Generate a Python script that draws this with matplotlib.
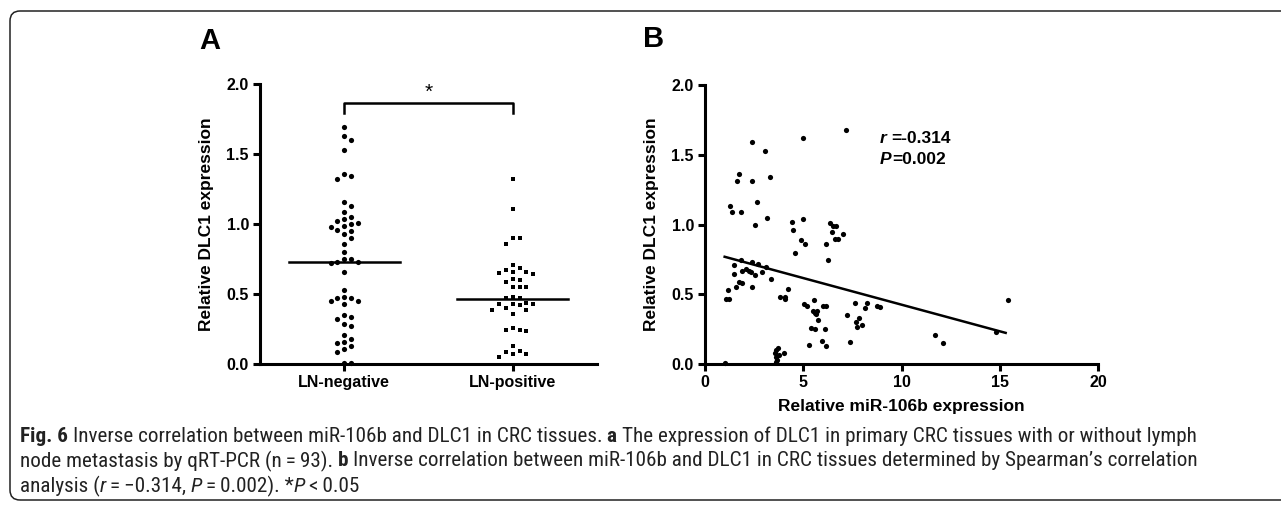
import numpy as np
import matplotlib
matplotlib.use('agg')
import matplotlib.pyplot as plt
from matplotlib.patches import FancyBboxPatch
from matplotlib.transforms import IdentityTransform

plt.rcParams['font.family'] = ['Liberation Sans', 'DejaVu Sans']

# ---- panel A data (Relative DLC1 expression) ----
groups = ['LN-negative', 'LN-positive']
ln_neg = [1.69, 1.60, 1.63, 1.53, 1.36, 1.34, 1.32, 1.16, 1.13, 1.09, 1.05, 1.04,
          1.02, 1.00, 0.99, 1.01, 0.96, 0.95, 0.98, 0.93, 0.90, 0.86, 0.80, 0.75,
          0.73, 0.73, 0.75, 0.72, 0.66, 0.53, 0.47, 0.45, 0.43, 0.45, 0.48, 0.47,
          0.34, 0.32, 0.35, 0.29, 0.27, 0.21, 0.18, 0.15, 0.16, 0.13, 0.11, 0.09,
          0.01, 0.01]
ln_pos = [1.32, 1.11, 0.90, 0.86, 0.90, 0.71, 0.66, 0.645, 0.67, 0.655, 0.66, 0.685,
          0.60, 0.61, 0.585, 0.555, 0.55, 0.555, 0.475, 0.475, 0.48, 0.43, 0.43,
          0.405, 0.385, 0.36, 0.42, 0.385, 0.43, 0.44, 0.245, 0.24, 0.245, 0.26,
          0.13, 0.095, 0.075, 0.05, 0.075, 0.085]
group_lines = [0.73, 0.465]

# ---- panel B data ----
mir106b = [1.01, 1.09, 1.23, 1.18, 1.26, 1.35, 1.63, 1.72, 1.85, 1.46, 1.48, 1.57,
           1.73, 1.89, 1.82, 1.89, 2.10, 2.24, 2.34, 2.41, 2.41, 2.41, 2.41, 2.53,
           2.53, 2.63, 2.69, 2.88, 3.06, 3.11, 3.18, 3.30, 3.37, 3.55, 3.59, 3.62,
           3.65, 3.69, 3.59, 3.75, 4.04, 3.80, 4.09, 4.09, 4.23, 4.41, 4.46, 4.56,
           4.87, 4.98, 5.00, 5.07, 5.05, 5.17, 5.27, 5.40, 5.57, 5.52, 5.61, 5.67,
           5.72, 5.61, 5.77, 5.94, 6.01, 6.14, 6.11, 6.14, 6.18, 6.25, 6.35, 6.45,
           6.52, 6.65, 6.62, 6.77, 7.04, 7.19, 7.22, 7.39, 7.63, 7.66, 7.71, 7.83,
           8.00, 8.16, 8.25, 8.77, 8.92, 11.70, 12.13, 14.79, 15.40]
dlc1 = [0.01, 0.47, 0.47, 0.53, 1.13, 1.09, 1.31, 1.36, 1.09, 0.71, 0.65, 0.55,
        0.59, 0.58, 0.75, 0.67, 0.68, 0.67, 0.66, 1.59, 1.31, 0.73, 0.55, 1.00,
        0.64, 1.16, 0.72, 0.66, 1.53, 0.70, 1.05, 1.34, 0.61, 0.08, 0.10, 0.05,
        0.03, 0.12, 0.02, 0.07, 0.08, 0.48, 0.48, 0.47, 0.54, 1.02, 0.96, 0.80,
        0.89, 1.04, 1.62, 0.86, 0.43, 0.42, 0.14, 0.26, 0.46, 0.38, 0.37, 0.36,
        0.38, 0.25, 0.32, 0.17, 0.42, 0.42, 0.25, 0.13, 0.86, 0.75, 1.01, 0.95,
        0.99, 0.99, 0.90, 0.90, 0.93, 1.68, 0.35, 0.16, 0.44, 0.30, 0.27, 0.33,
        0.28, 0.40, 0.44, 0.42, 0.41, 0.21, 0.15, 0.23, 0.46]
fit_x = [1.0, 15.3]
fit_y = [0.77, 0.225]

# caption pieces: (text, weight, style)
caption = [
    [('Fig. 6 ', 'bold', 'normal'),
     ('Inverse correlation between miR-106b and DLC1 in CRC tissues. ', 'normal', 'normal'),
     ('a ', 'bold', 'normal'),
     ('The expression of DLC1 in primary CRC tissues with or without lymph', 'normal', 'normal')],
    [('node metastasis by qRT-PCR (n\u2009=\u200993). ', 'normal', 'normal'),
     ('b ', 'bold', 'normal'),
     ('Inverse correlation between miR-106b and DLC1 in CRC tissues determined by Spearman\u2019s correlation',
      'normal', 'normal')],
    [('analysis (', 'normal', 'normal'), ('r', 'normal', 'italic'),
     ('\u2009=\u2009\u22120.314, ', 'normal', 'normal'), ('P', 'normal', 'italic'),
     ('\u2009=\u20090.002). *', 'normal', 'normal'), ('P', 'normal', 'italic'),
     ('\u2009<\u20090.05', 'normal', 'normal')],
]


def swarm(vals, ppx, ppy, d=6.6, step=6.8):
    # simple beeswarm: spread close values sideways (pixel units)
    vals = np.asarray(vals, dtype=float)
    px_done, py_done = [], []
    offs = np.zeros(len(vals))
    for i in np.argsort(vals)[::-1]:
        py = vals[i] * ppy
        found = None
        for k in range(0, 15):
            for c in ([0] if k == 0 else [k, -k]):
                px = c * step
                if all((px - a) ** 2 + (py - b) ** 2 >= d * d for a, b in zip(px_done, py_done)):
                    found = px
                    break
            if found is not None:
                break
        px_done.append(found)
        py_done.append(py)
        offs[i] = found / ppx
    return offs


W, H = 1281.0, 508.0
fig = plt.figure(figsize=(12.81, 5.08), dpi=100)
renderer = fig.canvas.get_renderer()

border = FancyBboxPatch((10, H - 500), 1300, 489, boxstyle='round,pad=0,rounding_size=10',
                        transform=IdentityTransform(), fill=False, lw=1.1, ec='#222222')
fig.add_artist(border)

axA = fig.add_axes([260 / W, 1 - 364.3 / H, 337 / W, 280.3 / H])
axB = fig.add_axes([705 / W, 1 - 364.3 / H, 393 / W, 279.3 / H])

# ---- panel A ----
xa = 0 + swarm(ln_neg, 169.0, 140.0)
xb = 1 + swarm(ln_pos, 169.0, 140.0)
axA.scatter(xa, ln_neg, s=14, marker='o', color='k', linewidths=0, clip_on=False, zorder=3)
axA.scatter(xb, ln_pos, s=12, marker='s', color='k', linewidths=0, clip_on=False, zorder=3)
for i, v in enumerate(group_lines):
    axA.plot([i - 0.33, i + 0.33], [v, v], color='k', lw=1.8, zorder=2)
axA.plot([0, 0, 1, 1], [1.79, 1.865, 1.865, 1.79], color='k', lw=1.8, clip_on=False)
axA.text(0.5, 1.875, '*', ha='center', va='bottom', fontsize=15)
axA.set_xlim(-0.5, 1.5)
axA.set_xticks([0, 1])
axA.set_xticklabels(groups)
axA.set_ylabel('Relative DLC1 expression', fontsize=12.5, fontweight='bold', labelpad=9)

# ---- panel B ----
axB.scatter(mir106b, dlc1, s=14, marker='o', color='k', linewidths=0, clip_on=False, zorder=3)
axB.plot(fit_x, fit_y, color='k', lw=1.8)
axB.set_xlim(0, 20)
axB.set_xticks([0, 5, 10, 15, 20])
axB.set_xlabel('Relative miR-106b expression', fontsize=12.5, fontweight='bold', labelpad=6)
axB.set_ylabel('Relative DLC1 expression', fontsize=12.5, fontweight='bold', labelpad=9)
axB.text(8.9, 1.62, 'r', fontsize=12.5, fontweight='bold', fontstyle='italic', va='center')
axB.annotate('=-0.314', xy=(8.9, 1.62), xytext=(8, 0), textcoords='offset points',
             fontsize=12.5, fontweight='bold', va='center')
axB.text(8.9, 1.47, 'P', fontsize=12.5, fontweight='bold', fontstyle='italic', va='center')
axB.annotate('=0.002', xy=(8.9, 1.47), xytext=(8.7, 0), textcoords='offset points',
             fontsize=12.5, fontweight='bold', va='center')

for ax in (axA, axB):
    ax.set_ylim(0, 2)
    ax.set_yticks([0, 0.5, 1.0, 1.5, 2.0])
    ax.set_yticklabels(['%.1f' % t for t in [0, 0.5, 1.0, 1.5, 2.0]])
    ax.spines['top'].set_visible(False)
    ax.spines['right'].set_visible(False)
    ax.spines['left'].set_linewidth(2.2)
    ax.spines['bottom'].set_linewidth(2.2)
    ax.tick_params(direction='out', length=5, width=2.2, labelsize=11.5, pad=3)
    for lab in ax.get_xticklabels() + ax.get_yticklabels():
        lab.set_fontweight('bold')

fig.text(210 / W, 1 - 41 / H, 'A', fontsize=21, fontweight='bold', ha='center', va='center')
fig.text(654 / W, 1 - 39 / H, 'B', fontsize=21, fontweight='bold', ha='center', va='center')

# ---- caption, drawn piece by piece ----
cap_family = ['Roboto Condensed', 'Open Sans Condensed', 'Liberation Sans Narrow', 'DejaVu Sans']


def advance(s, size, w, st):
    kw = dict(fontsize=size, fontweight=w, fontstyle=st, family=cap_family, fontstretch='condensed')
    t1 = fig.text(0, 0, '|' + s + '|', **kw)
    t2 = fig.text(0, 0, '||', **kw)
    a = t1.get_window_extent(renderer).width - t2.get_window_extent(renderer).width
    t1.remove()
    t2.remove()
    return a


base = 13.0
w1 = sum(advance(s, base, w, st) for s, w, st in caption[0])
cap_size = min(base * 1248.0 / w1, 15.2)

for line, ypx in zip(caption, [436, 461, 486]):
    cur = 20.0
    for s, w, st in line:
        fig.text(cur / W, 1 - ypx / H, s, fontsize=cap_size, fontweight=w, fontstyle=st,
                 family=cap_family, fontstretch='condensed', color='#222222', va='center', ha='left')
        cur += advance(s, cap_size, w, st)

fig.savefig('out.png', dpi=100)
